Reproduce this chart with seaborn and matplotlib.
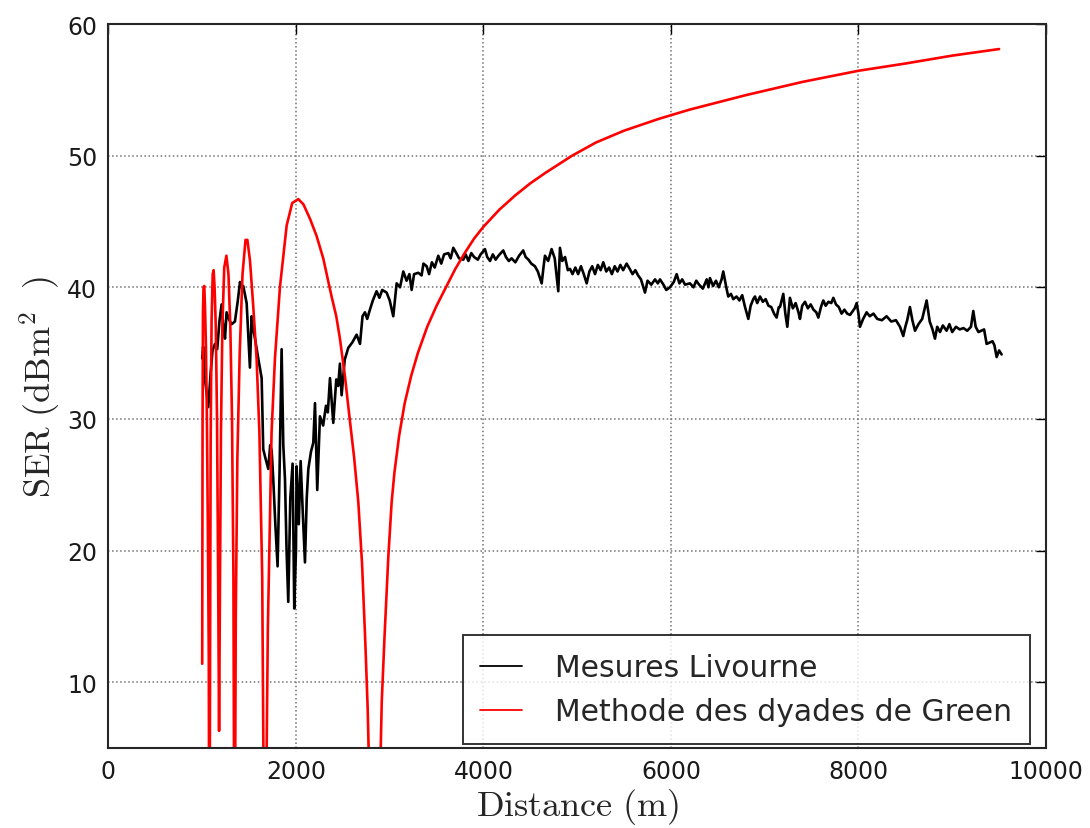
import numpy as np
import pandas as pd
import matplotlib
matplotlib.use('Agg')
import matplotlib.pyplot as plt
import seaborn as sns

# Mesures Livourne (distance en m, SER en dBm2)
mes_x = [1000, 1010, 1030, 1065, 1090, 1110, 1136, 1160, 1185, 1207, 1225, 1243, 1260, 1290, 1314,
         1349, 1380, 1403, 1420, 1438, 1474, 1490, 1509, 1527, 1545, 1563, 1600, 1634, 1651, 1675,
         1705, 1725, 1741, 1758, 1780, 1804, 1825, 1847, 1865, 1883, 1900, 1918, 1940, 1964, 1982,
         2000, 2007, 2030, 2050, 2075, 2096, 2115, 2132, 2160, 2185, 2203, 2227, 2256, 2290, 2320,
         2340, 2363, 2380, 2398, 2430, 2450, 2469, 2487, 2520, 2558, 2600, 2647, 2683, 2710, 2736,
         2760, 2789, 2820, 2860, 2890, 2920, 2967, 3000, 3038, 3074, 3110, 3145, 3180, 3210, 3234,
         3260, 3305, 3340, 3360, 3394, 3420, 3450, 3480, 3518, 3550, 3580, 3625, 3650, 3678, 3710,
         3740, 3785, 3810, 3840, 3870, 3900, 3940, 3970, 4016, 4040, 4070, 4100, 4130, 4160, 4211,
         4240, 4270, 4300, 4340, 4380, 4424, 4450, 4480, 4510, 4549, 4580, 4621, 4640, 4656, 4690,
         4727, 4760, 4798, 4816, 4840, 4870, 4900, 4923, 4950, 4980, 5010, 5040, 5070, 5101, 5130,
         5160, 5190, 5220, 5250, 5278, 5310, 5340, 5370, 5400, 5430, 5460, 5490, 5527, 5560, 5590,
         5620, 5650, 5680, 5723, 5750, 5790, 5830, 5860, 5883, 5920, 5950, 5989, 6030, 6061, 6090,
         6120, 6150, 6203, 6240, 6270, 6300, 6340, 6381, 6400, 6416, 6450, 6480, 6510, 6540, 6558,
         6590, 6611, 6640, 6665, 6700, 6730, 6760, 6790, 6825, 6850, 6878, 6896, 6920, 6950, 6980,
         7010, 7040, 7070, 7100, 7127, 7150, 7163, 7198, 7220, 7241, 7269, 7300, 7330, 7360, 7376,
         7400, 7430, 7460, 7490, 7520, 7550, 7572, 7600, 7625, 7650, 7680, 7710, 7732, 7760, 7790,
         7820, 7850, 7880, 7910, 7940, 7960, 7981, 8000, 8016, 8050, 8087, 8120, 8160, 8200, 8250,
         8300, 8350, 8400, 8443, 8478, 8500, 8520, 8549, 8575, 8603, 8640, 8680, 8700, 8727, 8760,
         8790, 8816, 8840, 8870, 8900, 8940, 8970, 9000, 9040, 9080, 9120, 9160, 9200, 9225, 9250,
         9280, 9310, 9340, 9367, 9400, 9430, 9450, 9474, 9500, 9527]
mes_y = [34.6, 35.5, 33.0, 30.9, 33.5, 35.2, 35.7, 35.3, 37.5, 38.7, 37.0, 36.1, 38.1, 37.5, 37.2,
         37.4, 39.0, 40.4, 40.0, 40.1, 38.8, 36.5, 33.9, 37.8, 36.8, 36.1, 34.5, 33.1, 27.7, 27.0,
         26.2, 28.0, 27.6, 25.4, 22.0, 18.8, 26.0, 35.3, 28.0, 25.4, 20.0, 16.1, 24.0, 26.6, 15.6,
         20.0, 26.4, 22.0, 26.8, 22.5, 19.1, 24.0, 26.2, 27.5, 28.2, 31.2, 24.6, 30.2, 29.5, 31.0,
         30.5, 33.1, 31.5, 29.7, 33.0, 32.5, 34.2, 31.8, 34.5, 35.4, 35.8, 36.4, 35.7, 37.8, 38.1,
         37.6, 38.3, 39.0, 39.7, 39.2, 39.8, 39.6, 39.0, 37.8, 40.3, 40.0, 41.2, 40.5, 41.0, 39.8,
         41.0, 41.1, 40.9, 41.8, 41.6, 41.0, 41.9, 41.5, 42.4, 41.8, 42.5, 42.6, 42.2, 43.0, 42.6,
         42.2, 42.1, 42.5, 42.0, 42.6, 42.3, 42.1, 42.5, 42.9, 42.3, 42.0, 42.5, 42.1, 42.4, 42.8,
         42.3, 42.0, 42.2, 41.9, 42.4, 42.8, 42.3, 42.1, 41.8, 41.6, 41.2, 40.3, 41.5, 42.4, 42.0,
         42.9, 42.2, 39.7, 43.0, 42.0, 42.3, 41.3, 41.4, 41.0, 41.5, 41.0, 41.6, 41.0, 40.3, 41.2,
         41.6, 41.0, 41.7, 41.3, 41.9, 41.2, 41.5, 41.0, 41.6, 41.2, 41.7, 41.3, 41.8, 41.4, 41.0,
         41.3, 40.9, 40.6, 39.6, 40.5, 40.2, 40.6, 40.3, 40.6, 40.2, 39.8, 40.0, 40.4, 41.0, 40.3,
         40.6, 40.2, 40.3, 40.0, 40.5, 40.2, 39.9, 40.6, 40.0, 40.7, 40.1, 40.5, 40.0, 40.6, 41.2,
         40.0, 39.3, 39.5, 39.1, 39.3, 39.0, 39.4, 38.5, 37.6, 38.6, 39.1, 39.3, 38.8, 39.3, 38.9,
         39.1, 38.6, 38.5, 38.0, 37.7, 38.5, 38.5, 39.5, 38.0, 37.0, 39.2, 38.4, 38.8, 38.1, 37.6,
         38.6, 38.9, 38.4, 38.7, 38.3, 38.1, 37.7, 38.5, 39.0, 38.6, 38.9, 38.8, 39.2, 38.7, 38.5,
         38.0, 38.3, 38.0, 37.9, 38.2, 38.4, 38.8, 38.0, 37.0, 37.6, 38.1, 37.8, 38.0, 37.6, 37.5,
         37.8, 37.4, 37.5, 37.0, 36.3, 37.0, 37.5, 38.5, 37.5, 36.7, 37.2, 37.6, 38.2, 39.0, 37.4,
         36.8, 36.1, 37.0, 36.6, 37.1, 36.7, 37.2, 36.6, 37.0, 36.8, 36.9, 36.7, 37.0, 38.2, 37.0,
         36.6, 36.7, 36.8, 35.7, 35.8, 35.9, 35.6, 34.7, 35.2, 34.9]

# Methode des dyades de Green (valeurs sous 5 dBm2 = creux hors cadre)
green_x = [1000, 1004, 1008, 1014, 1022, 1030, 1040, 1050, 1060, 1070, 1077, 1084, 1090, 1100, 1112,
           1122, 1132, 1145, 1158, 1170, 1180, 1190, 1200, 1215, 1235, 1258, 1280, 1300, 1318, 1333,
           1345, 1358, 1375, 1400, 1430, 1462, 1482, 1510, 1545, 1580, 1610, 1640, 1667, 1700, 1740,
           1776, 1829, 1901, 1960, 2025, 2080, 2150, 2220, 2291, 2380, 2430, 2469, 2523, 2570, 2620,
           2665, 2705, 2740, 2765, 2785, 2835, 2895, 2915, 2945, 2985, 3021, 3050, 3100, 3160, 3230,
           3300, 3400, 3500, 3600, 3700, 3800, 3900, 4000, 4170, 4342, 4500, 4662, 4946, 5200, 5500,
           5872, 6200, 6800, 7400, 8000, 8500, 9000, 9500]
green_y = [11.4, 30.0, 38.0, 40.0, 40.1, 38.5, 35.5, 30.0, 22.0, 12.0, -10.0, 12.0, 28.0, 37.5, 41.0,
           41.3, 40.0, 37.0, 30.0, 18.0, 6.3, 18.0, 29.0, 37.0, 41.5, 42.4, 41.0, 37.0, 30.0, 18.0,
           -10.0, 15.0, 27.0, 35.0, 41.0, 43.6, 43.6, 42.0, 38.5, 34.6, 29.0, 18.0, -10.0, 14.0, 29.0,
           34.6, 40.0, 44.7, 46.4, 46.7, 46.3, 45.2, 43.9, 42.2, 39.3, 37.8, 36.1, 33.2, 30.2, 27.1,
           23.7, 19.0, 13.0, 8.0, 2.0, -20.0, 2.0, 8.5, 13.5, 19.5, 23.7, 25.9, 28.7, 31.2, 33.3,
           35.0, 37.0, 38.6, 40.0, 41.4, 42.6, 43.7, 44.6, 45.9, 47.0, 47.9, 48.7, 50.0, 51.0, 51.9,
           52.8, 53.5, 54.6, 55.6, 56.45, 57.0, 57.6, 58.1]

mes = pd.DataFrame({'Distance': mes_x, 'SER': mes_y})
green = pd.DataFrame({'Distance': green_x, 'SER': green_y})

sns.set_style('white')
plt.rcParams['mathtext.fontset'] = 'cm'
plt.rcParams['font.family'] = ['DejaVu Sans']

fig, ax = plt.subplots(figsize=(10.9, 8.29), dpi=100)
fig.subplots_adjust(left=0.0995, right=0.9596, top=0.9698, bottom=0.0965)

sns.lineplot(data=mes, x='Distance', y='SER', color='black', lw=1.9,
             estimator=None, sort=False, label='Mesures Livourne', ax=ax)
sns.lineplot(data=green, x='Distance', y='SER', color='red', lw=1.9,
             estimator=None, sort=False, label='Methode des dyades de Green', ax=ax)

ax.set_xlim(0, 10000)
ax.set_ylim(5, 60)
ax.set_xticks([0, 2000, 4000, 6000, 8000, 10000])
ax.set_yticks([10, 20, 30, 40, 50, 60])
ax.grid(True, color='0.45', linestyle=':', lw=1.1)
ax.tick_params(direction='in', length=7, width=1, top=True, right=True,
               labelsize=17, colors='black', labelcolor='0.1', pad=8)
for s in ax.spines.values():
    s.set_color('0.15')
    s.set_linewidth(1.5)

ax.set_xlabel(r'$\mathrm{Distance\ (m)}$', fontsize=26, labelpad=2)
ax.set_ylabel(r'$\mathrm{SER\ (dBm^2\ \ )}$', fontsize=26, labelpad=4)

leg = ax.legend(loc='lower right', bbox_to_anchor=(0.983, 0.0055), borderaxespad=0,
                fontsize=21.5, frameon=True, fancybox=False,
                handlelength=1.4, handletextpad=1.1,
                borderpad=0.6, labelspacing=0.5)
leg.get_frame().set_edgecolor('black')
leg.get_frame().set_linewidth(1.4)
for line in leg.get_lines():
    line.set_linewidth(1.3)

plt.savefig('out.png', dpi=100)
